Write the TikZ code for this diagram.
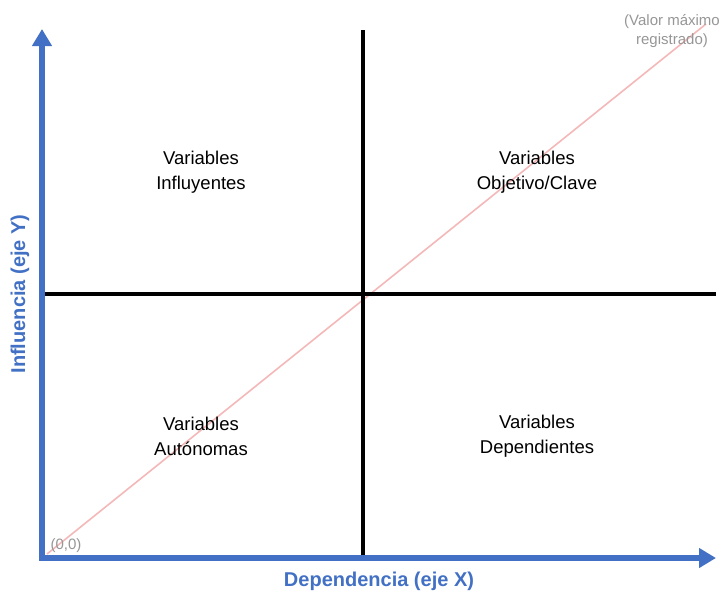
\documentclass[tikz,border=0pt]{standalone}
\usepackage{fontspec}
\setmainfont{Liberation Sans}
\usetikzlibrary{arrows.meta}
\definecolor{axisblue}{RGB}{66,112,196}
\definecolor{diagpink}{RGB}{244,184,184}
\definecolor{labgray}{RGB}{150,150,150}
\begin{document}
\begin{tikzpicture}[x=1pt,y=-1pt,
  axis/.style={axisblue,line width=5.5pt,-{Triangle[length=17pt,width=19pt]}},
  divider/.style={black,line width=3.6pt},
  quad/.style={align=center,font=\fontsize{18.5}{25}\selectfont,inner sep=0pt},
  axlabel/.style={axisblue,font=\fontsize{20}{24}\selectfont\bfseries,inner sep=0pt},
  note/.style={labgray,align=center,font=\fontsize{15}{19}\selectfont,inner sep=0pt}]
\useasboundingbox (0,0) rectangle (722,595);
\coordinate (o) at (42,558);
\coordinate (ytip) at (42,29);
\coordinate (xtip) at (716,558);
\coordinate (vtop) at (363,30);
\coordinate (vbot) at (363,558);
\coordinate (hl) at (42,294);
\coordinate (hr) at (716,294);
\coordinate (d0) at (47,554);
\coordinate (d1) at (706,24);
\draw[diagpink,line width=1.6pt] (d0) -- (d1);
\draw[divider] (vtop) -- (vbot);
\draw[divider] (hl) -- (hr);
\draw[axis] ([yshift=-2.75pt]o) -- (ytip);
\draw[axis] ([xshift=-2.75pt]o) -- (xtip);
\node[quad] (q1) at (201,172) {Variables\\Influyentes};
\node[quad] (q2) at (537,172) {Variables\\Objetivo/Clave};
\node[quad] (q3) at (201,436) {Variables\\Autónomas};
\node[quad] (q4) at (537,436) {Variables\\Dependientes};
\node[axlabel] (xl) at (379,581) {Dependencia (eje X)};
\node[axlabel,rotate=90] (yl) at (20,294) {Influencia (eje Y)};
\node[note] (vmax) at (672,31) {(Valor máximo\\registrado)};
\node[note] (orig) at (66,546) {(0,0)};
\end{tikzpicture}
\end{document}
